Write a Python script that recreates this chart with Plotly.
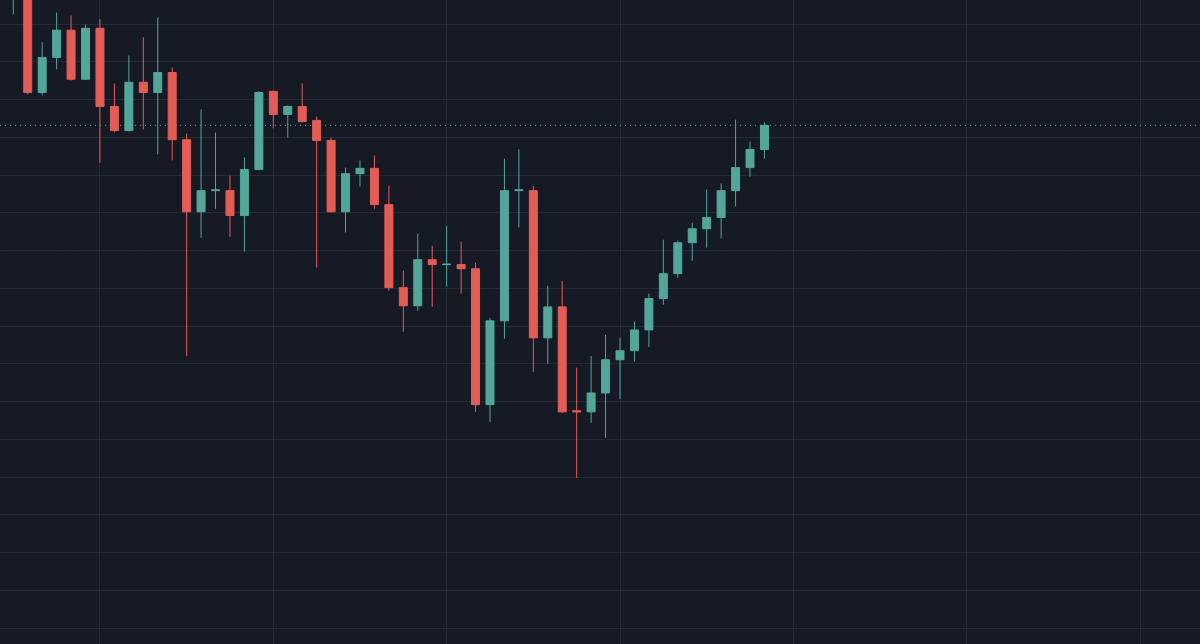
import plotly.graph_objects as go

# --- STYLE: dark trading terminal ---
BG = "#161a25"
GRID = "#252935"
UP = "#53a69a"
DOWN = "#e35d56"

# candle index (one per bar)
bars = list(range(53))

opens = [116.75, 117.00, 114.19, 115.12, 115.84, 114.54, 115.89, 113.82, 113.18, 114.46,
         114.19, 114.72, 112.94, 111.03, 111.59, 111.59, 110.93, 112.15, 114.22, 113.61,
         113.82, 113.45, 112.92, 111.03, 112.04, 112.18, 111.22, 109.02, 108.54, 109.76,
         109.63, 109.63, 109.52, 105.92, 108.14, 111.59, 111.59, 107.69, 108.51, 105.76,
         105.73, 106.23, 107.11, 107.35, 107.90, 108.73, 109.39, 110.21, 110.58, 110.88,
         111.59, 112.20, 112.68]
highs = [117.40, 117.20, 115.52, 116.31, 116.23, 115.99, 116.13, 114.43, 115.17, 115.65,
         116.18, 114.85, 113.10, 113.74, 113.13, 111.99, 112.47, 114.22, 114.24, 113.85,
         114.43, 113.55, 113.00, 112.20, 112.39, 112.52, 111.72, 109.47, 110.45, 110.13,
         110.66, 110.24, 109.68, 108.22, 112.44, 112.68, 111.72, 109.07, 109.20, 106.90,
         107.21, 107.77, 107.69, 108.12, 108.86, 110.29, 110.27, 110.74, 111.62, 111.78,
         113.47, 112.89, 113.40]
lows = [116.26, 114.14, 114.11, 114.80, 114.51, 114.52, 112.33, 113.13, 113.16, 113.21,
        112.55, 112.39, 107.21, 110.34, 111.11, 110.37, 109.97, 112.13, 113.24, 113.00,
        113.40, 109.55, 111.02, 110.48, 111.70, 111.11, 108.94, 107.85, 108.41, 108.51,
        109.05, 108.86, 105.73, 105.46, 107.67, 110.61, 106.79, 107.00, 105.70, 103.98,
        105.44, 105.04, 106.07, 107.06, 107.45, 108.57, 109.28, 109.73, 110.08, 110.32,
        111.17, 111.96, 112.44]
closes = [117.20, 114.19, 115.12, 115.84, 114.54, 115.89, 113.82, 113.18, 114.46, 114.19,
          114.72, 112.94, 111.03, 111.59, 111.61, 110.93, 112.15, 114.19, 113.61, 113.82,
          113.42, 112.92, 111.03, 112.04, 112.18, 111.22, 109.02, 108.54, 109.76, 109.63,
          109.64, 109.52, 105.92, 108.14, 111.59, 111.61, 107.69, 108.51, 105.73, 105.73,
          106.23, 107.11, 107.35, 107.90, 108.73, 109.39, 110.21, 110.58, 110.88, 111.59,
          112.20, 112.68, 113.32]

fig = go.Figure()

fig.add_trace(go.Candlestick(
    x=bars, open=opens, high=highs, low=lows, close=closes,
    increasing=dict(line=dict(color=UP, width=1), fillcolor=UP),
    decreasing=dict(line=dict(color=DOWN, width=1), fillcolor=DOWN),
    whiskerwidth=0, hoverinfo="skip", showlegend=False,
))

# last price marker line (dotted)
fig.add_hline(y=closes[-1], line=dict(color=UP, width=1, dash="1px,4px"), opacity=1)
# faint dashed level on the 110 grid line
fig.add_hline(y=110, line=dict(color="#2c303c", width=1, dash="dash"), layer="below")

fig.update_layout(
    width=1200, height=644,
    paper_bgcolor=BG, plot_bgcolor=BG,
    margin=dict(l=0, r=0, t=0, b=0),
    boxgap=0.21,
    hovermode=False,
    xaxis=dict(
        range=[-0.92, 82.15], tick0=6, dtick=12,
        showgrid=True, gridcolor=GRID, gridwidth=1,
        showticklabels=False, zeroline=False, showline=False,
        rangeslider=dict(visible=False),
    ),
    yaxis=dict(
        range=[99.58, 116.64], tick0=100, dtick=1,
        showgrid=True, gridcolor=GRID, gridwidth=1,
        showticklabels=False, zeroline=False, showline=False,
    ),
)

# page body has a default 8px margin; drop it so the chart fills the window
fig.write_html(
    "out.html",
    config={"displayModeBar": False},
    post_script="document.body.style.margin='0';document.body.style.background='%s';" % BG,
)
